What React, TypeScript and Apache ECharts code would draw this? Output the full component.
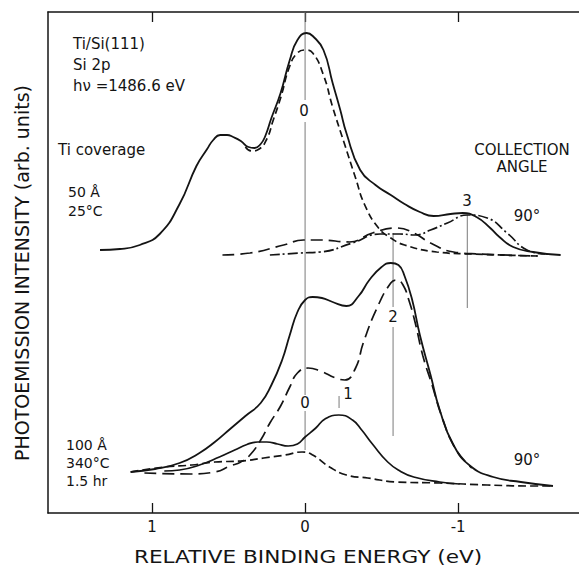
import React, { useEffect, useRef } from "react";
import * as echarts from "echarts";

// Relative binding energy (eV) vs photoemission intensity (arb. units)
// ---- upper spectrum: 50 Å, 25°C ----
const upperTotal: [number, number][] = [
  [1.34, 52.6], [1.21, 52.8], [1.08, 53.6], [0.95, 55.8], [0.82, 61.8], [0.71, 69.4],
  [0.64, 72.8], [0.60, 74.6], [0.555, 75.6], [0.51, 75.6], [0.47, 75.2], [0.42, 74.4],
  [0.37, 73.2], [0.33, 73.0], [0.29, 73.8], [0.26, 75.4], [0.22, 79.0], [0.16, 84.0],
  [0.10, 90.6], [0.05, 94.6], [-0.01, 96.0], [-0.05, 95.4], [-0.12, 92.6], [-0.18, 86.0],
  [-0.23, 80.6], [-0.27, 76.0], [-0.36, 68.6], [-0.46, 65.6], [-0.56, 63.6], [-0.65, 61.8],
  [-0.75, 60.2], [-0.84, 59.4], [-0.95, 59.8], [-1.03, 60.0], [-1.12, 59.2], [-1.21, 57.0],
  [-1.27, 55.2], [-1.36, 53.2], [-1.49, 52.2], [-1.67, 51.6],
];
const upperComp0: [number, number][] = [
  [0.39, 73.2], [0.35, 72.4], [0.30, 72.8], [0.25, 74.8], [0.21, 78.4], [0.16, 83.0],
  [0.10, 89.4], [0.05, 92.0], [0.0, 92.6], [-0.05, 92.0], [-0.12, 87.6], [-0.18, 81.2],
  [-0.26, 73.6], [-0.33, 67.0], [-0.39, 61.6], [-0.48, 57.0], [-0.56, 55.0], [-0.65, 53.6],
  [-0.86, 52.2], [-1.08, 51.8], [-1.52, 51.4],
];
const upperComp2: [number, number][] = [
  [0.54, 51.6], [0.36, 52.0], [0.14, 53.6], [0.01, 54.6], [-0.10, 54.6], [-0.29, 54.2],
  [-0.44, 56.0], [-0.60, 57.0], [-0.71, 56.0], [-0.82, 54.0], [-0.97, 52.2], [-1.14, 51.8],
  [-1.52, 51.4],
];
const upperComp3: [number, number][] = [
  [0.23, 51.6], [0.03, 52.0], [-0.10, 52.2], [-0.31, 54.0], [-0.49, 55.8], [-0.62, 55.8],
  [-0.72, 55.6], [-0.82, 56.6], [-0.93, 58.0], [-1.06, 59.6], [-1.19, 59.0], [-1.32, 56.0],
  [-1.45, 52.6], [-1.57, 51.8],
];

// ---- lower spectrum: 100 Å, 340°C, 1.5 hr ----
const lowerTotal: [number, number][] = [
  [1.14, 8.2], [0.98, 8.8], [0.82, 10.0], [0.69, 12.0], [0.59, 14.2], [0.49, 16.8],
  [0.39, 19.4], [0.29, 22.0], [0.22, 25.6], [0.15, 30.6], [0.10, 35.6], [0.05, 40.2],
  [0.0, 42.6], [-0.05, 43.2], [-0.11, 43.0], [-0.18, 42.2], [-0.27, 41.4], [-0.35, 43.4],
  [-0.42, 46.6], [-0.50, 49.2], [-0.56, 50.0], [-0.61, 49.6], [-0.65, 47.4], [-0.70, 42.6],
  [-0.75, 35.6], [-0.82, 27.6], [-0.88, 20.6], [-0.97, 13.6], [-1.08, 9.4], [-1.23, 7.2],
  [-1.41, 6.2], [-1.62, 5.4],
];
const lowerComp2: [number, number][] = [
  [1.05, 8.0], [0.75, 7.8], [0.59, 8.2], [0.49, 9.4], [0.42, 10.2], [0.36, 11.6],
  [0.29, 14.6], [0.23, 18.0], [0.16, 21.4], [0.10, 25.2], [0.05, 28.0], [-0.02, 29.0],
  [-0.10, 28.4], [-0.20, 27.0], [-0.26, 26.6], [-0.33, 29.0], [-0.38, 34.0], [-0.47, 41.0],
  [-0.56, 46.0], [-0.60, 46.6], [-0.64, 45.6], [-0.68, 42.4], [-0.72, 38.0], [-0.77, 31.4],
  [-0.83, 25.6], [-0.89, 19.6], [-0.98, 13.0], [-1.09, 9.0],
];
const lowerComp1: [number, number][] = [
  [0.92, 8.4], [0.82, 8.6], [0.69, 9.6], [0.56, 11.2], [0.46, 12.6], [0.38, 13.7],
  [0.31, 14.2], [0.25, 14.2], [0.18, 13.8], [0.11, 13.4], [0.05, 13.8], [0.0, 15.2],
  [-0.07, 17.0], [-0.13, 18.8], [-0.22, 19.6], [-0.31, 18.6], [-0.37, 16.6], [-0.44, 13.8],
  [-0.54, 10.2], [-0.62, 8.4], [-0.71, 7.2], [-0.88, 6.2], [-1.01, 5.8],
];
const lowerComp0: [number, number][] = [
  [1.14, 8.2], [0.92, 9.2], [0.74, 9.6], [0.59, 10.2], [0.42, 10.4], [0.27, 11.0],
  [0.13, 11.6], [0.02, 12.2], [-0.05, 11.6], [-0.16, 9.2], [-0.27, 7.6], [-0.41, 7.0],
  [-0.60, 6.2], [-0.88, 6.0], [-1.19, 5.6], [-1.52, 5.4], [-1.62, 5.4],
];

// peak-position marker segments: [energy, from, to]
const markerSegments: [number, number, number][] = [
  [0, 100.2, 82.6], [0, 78.2, 23.6], [0, 20.4, 12.6],
  [-0.575, 56.0, 41.2], [-0.575, 37.2, 15.4],
  [-1.06, 59.6, 41.0],
  [-0.222, 23.4, 21.0],
];

const tickValues = [1, 0, -1];
const X_MIN = -1.79;
const X_MAX = 1.68;
const Y_MAX = 100.2;

const FONT = "DejaVu Sans";
const INK = "#141414";

type T = { text: string; x: number; y: number; size: number; align?: string };
const annotations: T[] = [
  { text: "Ti/Si(111)", x: 73, y: 44, size: 15 },
  { text: "Si 2p", x: 73, y: 65, size: 15 },
  { text: "hν =1486.6 eV", x: 73, y: 86, size: 15 },
  { text: "Ti coverage", x: 58, y: 150, size: 15 },
  { text: "50 Å", x: 68, y: 192, size: 14 },
  { text: "25°C", x: 68, y: 211, size: 14 },
  { text: "100 Å", x: 66, y: 445, size: 14 },
  { text: "340°C", x: 66, y: 463, size: 14 },
  { text: "1.5 hr", x: 66, y: 481, size: 14 },
  { text: "COLLECTION", x: 522, y: 150, size: 15, align: "center" },
  { text: "ANGLE", x: 522, y: 167, size: 15, align: "center" },
  { text: "90°", x: 527, y: 216, size: 15, align: "center" },
  { text: "90°", x: 527, y: 460, size: 15, align: "center" },
  { text: "0", x: 304, y: 111, size: 15, align: "center" },
  { text: "3", x: 467, y: 201, size: 15, align: "center" },
  { text: "2", x: 393, y: 317, size: 15, align: "center" },
  { text: "0", x: 305, y: 403, size: 15, align: "center" },
  { text: "1", x: 348, y: 394, size: 15, align: "center" },
];

function curve(name: string, data: [number, number][], dash: any, width = 1.7) {
  return {
    type: "line",
    name,
    data,
    smooth: 0.5,
    showSymbol: false,
    symbol: "none",
    silent: true,
    z: 3,
    lineStyle: { color: INK, width, type: dash },
  };
}

export default function App() {
  const ref = useRef<HTMLDivElement>(null);
  useEffect(() => {
    const chart = echarts.init(ref.current!, null, { renderer: "svg" });
    const markers = markerSegments.map(([e, a, b], i) => ({
      type: "line",
      name: "marker" + i,
      data: [[e, a], [e, b]],
      showSymbol: false,
      symbol: "none",
      silent: true,
      z: 2,
      lineStyle: { color: "#7a7a7a", width: 1 },
    }));
    const axisCommon = {
      type: "value",
      min: X_MIN,
      max: X_MAX,
      inverse: true,
      splitLine: { show: false },
      axisLine: { show: true, onZero: false, lineStyle: { color: INK, width: 1.5 } },
      axisTick: { show: true, inside: true, length: 10, customValues: tickValues, lineStyle: { color: INK, width: 1.3 } },
    };
    const option: any = {
      animation: false,
      backgroundColor: "#fff",
      grid: { left: 48, right: 0, top: 12, bottom: 53 },
      xAxis: [
        {
          ...axisCommon,
          position: "bottom",
          axisLabel: {
            show: true,
            customValues: tickValues,
            formatter: (v: number) => String(v),
            color: INK,
            fontSize: 15,
            fontFamily: FONT,
            margin: 6,
          },
        },
        {
          ...axisCommon,
          position: "top",
          axisLabel: { show: false },
        },
      ],
      yAxis: {
        type: "value",
        min: 0,
        max: Y_MAX,
        position: "left",
        splitLine: { show: false },
        axisTick: { show: false },
        axisLabel: { show: false },
        axisLine: { show: true, onZero: false, lineStyle: { color: INK, width: 1.5 } },
      },
      series: [
        ...markers,
        curve("50 Å total", upperTotal, "solid", 1.8),
        curve("50 Å component 0", upperComp0, [7, 4]),
        curve("50 Å component 2", upperComp2, [12, 6]),
        curve("50 Å component 3", upperComp3, [10, 3, 2, 3]),
        curve("100 Å total", lowerTotal, "solid", 1.8),
        curve("100 Å component 2", lowerComp2, [12, 6]),
        curve("100 Å component 1", lowerComp1, "solid"),
        curve("100 Å component 0", lowerComp0, [8, 4]),
      ],
      graphic: [
        ...annotations.map((t) => ({
          type: "text",
          x: t.x,
          y: t.y,
          silent: true,
          style: {
            text: t.text,
            fontSize: t.size,
            fontFamily: FONT,
            fill: INK,
            align: t.align || "left",
            textAlign: t.align || "left",
            verticalAlign: "middle",
            textVerticalAlign: "middle",
          },
        })),
        {
          type: "text",
          x: 308,
          y: 557,
          scaleX: 1.2,
          silent: true,
          style: {
            text: "RELATIVE BINDING ENERGY (eV)",
            fontSize: 18,
            fontFamily: FONT,
            fill: INK,
            align: "center",
            textAlign: "center",
            verticalAlign: "middle",
            textVerticalAlign: "middle",
          },
        },
        {
          type: "text",
          x: 22,
          y: 273,
          rotation: Math.PI / 2,
          silent: true,
          style: {
            text: "PHOTOEMISSION INTENSITY (arb. units)",
            fontSize: 19,
            fontFamily: FONT,
            fill: INK,
            align: "center",
            textAlign: "center",
            verticalAlign: "middle",
            textVerticalAlign: "middle",
          },
        },
      ],
    };
    chart.setOption(option);
    return () => chart.dispose();
  }, []);
  return (
    <div
      ref={ref}
      style={{ position: "fixed", left: 0, top: 0, width: 579, height: 566, background: "#fff" }}
    />
  );
}
